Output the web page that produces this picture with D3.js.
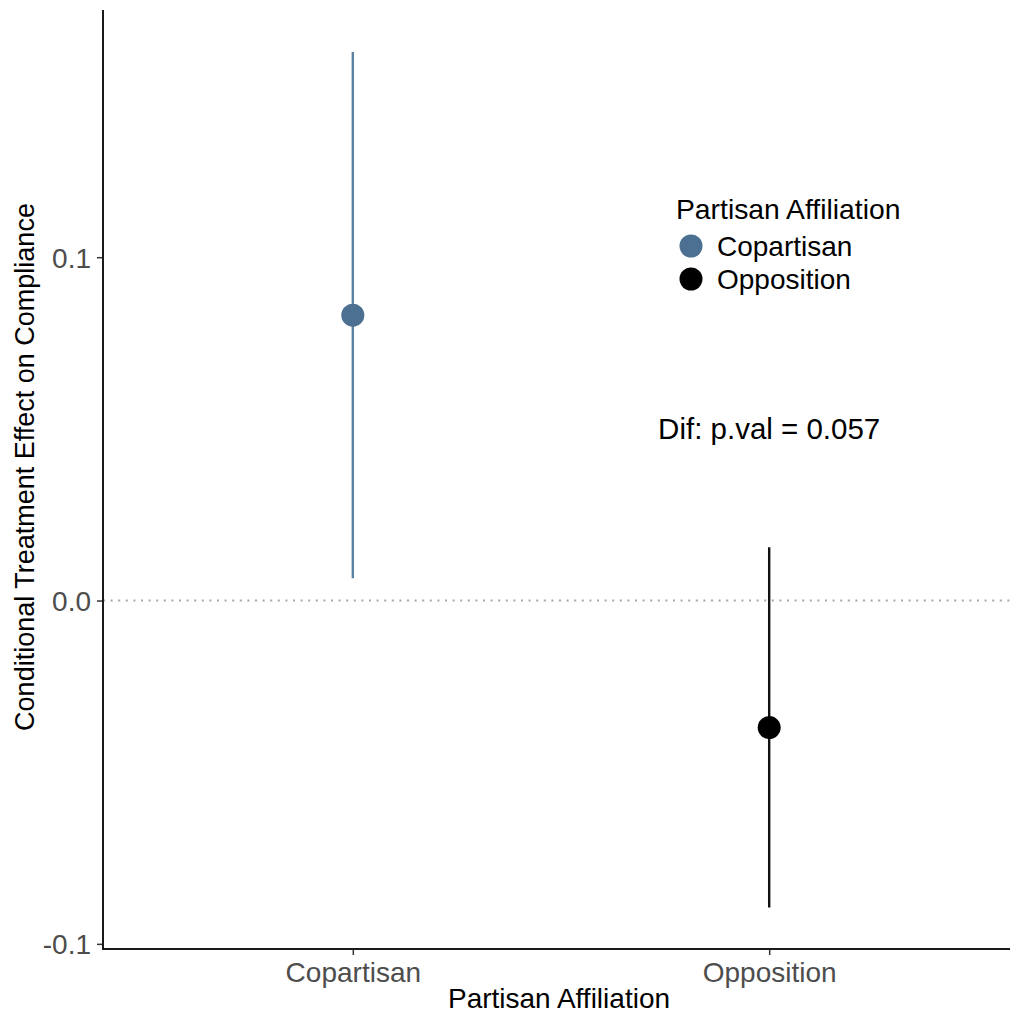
<!DOCTYPE html>
<html>
<head>
<meta charset="utf-8">
<script src="https://cdn.jsdelivr.net/npm/d3@7"></script>
<style>
  body { margin: 0; background: #fff; }
  text { font-family: "Liberation Sans", Arial, sans-serif; }
  .tick-text { fill: #4d4d4d; font-size: 28px; }
  .axis-title { fill: #000; font-size: 28px; }
</style>
</head>
<body>
<svg id="chart" width="1010" height="1017"></svg>
<script>
// data
var groups = ["Copartisan", "Opposition"];
var estimates = [0.0831, -0.0370];
var lowers = [0.0065, -0.0894];
var uppers = [0.1598, 0.0155];
var colors = ["#4b7091", "#000000"];
var lineColors = ["#5b82a4", "#111111"];
var yTicks = [-0.1, 0.0, 0.1];
var yTickLabels = ["-0.1", "0.0", "0.1"];
var annotation = { group: "Opposition", value: 0.05, text: "Dif: p.val = 0.057" };

var svg = d3.select("#chart");
var W = 1010, H = 1017;
var plotLeft = 103, plotRight = 1019, plotTop = 10, plotBottom = 949;

var x = d3.scalePoint()
  .domain(groups)
  .range([plotLeft, plotRight])
  .padding(0.6);

var y = d3.scaleLinear()
  .domain([-0.1015, 0.172])
  .range([plotBottom, plotTop]);

var rows = groups.map(function(g, i){
  return { group: g, est: estimates[i], lo: lowers[i], hi: uppers[i], col: colors[i], lcol: lineColors[i] };
});

//zero reference line
svg.append("line")
  .attr("x1", plotLeft).attr("x2", W)
  .attr("y1", y(0)).attr("y2", y(0))
  .attr("stroke", "#a6a6a6")
  .attr("stroke-width", 2)
  .attr("stroke-dasharray", "2,5.6");

//y axis
var yAxis = svg.append("g")
  .attr("transform", "translate(" + plotLeft + ",0)")
  .call(d3.axisLeft(y).tickValues(yTicks).tickSize(6).tickPadding(6)
    .tickFormat(function(d, i){ return yTickLabels[i]; }));
yAxis.select(".domain").remove();
yAxis.selectAll(".tick line").attr("stroke", "#333").attr("stroke-width", 1.5);
yAxis.selectAll(".tick text").attr("class", "tick-text").attr("font-size", null).attr("font-family", null).attr("dy", "0.36em");
svg.append("line")
  .attr("x1", plotLeft).attr("x2", plotLeft)
  .attr("y1", plotTop).attr("y2", plotBottom + 1)
  .attr("stroke", "#1a1a1a").attr("stroke-width", 2);

//x axis
var xAxis = svg.append("g")
  .attr("transform", "translate(0," + plotBottom + ")")
  .call(d3.axisBottom(x).tickSize(6).tickPadding(7));
xAxis.select(".domain").remove();
xAxis.selectAll(".tick line").attr("stroke", "#333").attr("stroke-width", 1.5);
xAxis.selectAll(".tick text").attr("class", "tick-text").attr("font-size", null).attr("font-family", null).attr("dy", "0.71em");
svg.append("line")
  .attr("x1", plotLeft - 1).attr("x2", W)
  .attr("y1", plotBottom).attr("y2", plotBottom)
  .attr("stroke", "#1a1a1a").attr("stroke-width", 2);

//error bars
svg.selectAll(".ci")
  .data(rows)
  .enter()
  .append("line")
  .attr("class", "ci")
  .attr("x1", function(d){ return x(d.group); })
  .attr("x2", function(d){ return x(d.group); })
  .attr("y1", function(d){ return y(d.lo); })
  .attr("y2", function(d){ return y(d.hi); })
  .attr("stroke", function(d){ return d.lcol; })
  .attr("stroke-width", 2.4);

//points
svg.selectAll(".pt")
  .data(rows)
  .enter()
  .append("circle")
  .attr("class", "pt")
  .attr("cx", function(d){ return x(d.group); })
  .attr("cy", function(d){ return y(d.est); })
  .attr("r", 11.5)
  .attr("fill", function(d){ return d.col; });

//annotation
svg.append("text")
  .attr("x", x(annotation.group))
  .attr("y", y(annotation.value))
  .attr("dy", "0.36em")
  .attr("text-anchor", "middle")
  .attr("font-size", 29.5)
  .attr("fill", "#000")
  .text(annotation.text);

//axis titles
svg.append("text")
  .attr("class", "axis-title")
  .attr("text-anchor", "middle")
  .attr("transform", "translate(559,1008)")
  .text("Partisan Affiliation");

svg.append("text")
  .attr("class", "axis-title")
  .attr("text-anchor", "middle")
  .attr("font-size", 27)
  .style("font-size", "27px")
  .attr("transform", "translate(34,467) rotate(-90)")
  .text("Conditional Treatment Effect on Compliance");

//legend
var legend = svg.append("g").attr("transform", "translate(676,0)");
legend.append("text")
  .attr("x", 0).attr("y", 219)
  .attr("font-size", 28.3)
  .attr("fill", "#000")
  .text("Partisan Affiliation");
var items = legend.selectAll(".legend-item")
  .data(rows)
  .enter()
  .append("g")
  .attr("class", "legend-item")
  .attr("transform", function(d, i){ return "translate(0," + (246 + i * 33) + ")"; });
items.append("circle")
  .attr("cx", 15).attr("cy", 0).attr("r", 11.5)
  .attr("fill", function(d){ return d.col; });
items.append("text")
  .attr("x", 41).attr("y", 0).attr("dy", "0.36em")
  .attr("font-size", 28)
  .attr("fill", "#000")
  .text(function(d){ return d.group; });
</script>
</body>
</html>
